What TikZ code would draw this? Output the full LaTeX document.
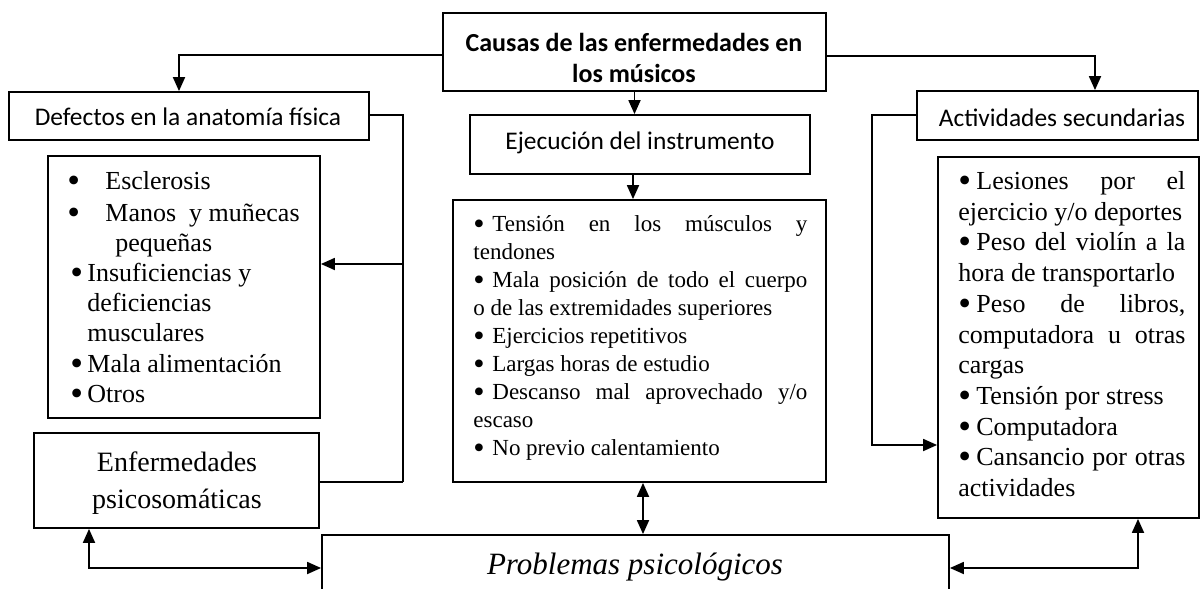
\documentclass[tikz,border=0pt]{standalone}
\usepackage{fontspec}
\usepackage{graphicx}
\setmainfont{Liberation Serif}
\newfontfamily\calib{Carlito}
\newcommand{\bul}{\smash{\raisebox{-1.4pt}{\scalebox{1.4}{•}}}}
\usetikzlibrary{arrows.meta,fit}
\begin{document}
\begin{tikzpicture}[x=0.5pt,y=-0.5pt,
  box/.style={draw,line width=0.9pt,inner sep=0pt},
  conn/.style={line width=0.9pt},
  arr/.style={conn,-{Triangle[length=7pt,width=6pt]}},
  darr/.style={conn,{Triangle[length=7pt,width=6pt]}-{Triangle[length=7pt,width=6pt]}},
  lbl/.style={inner sep=0pt,font=\calib\fontsize{12.7pt}{15.5pt}\selectfont,align=center},
  ml/.style={anchor=mid west,inner sep=0pt,font=\fontsize{11.5pt}{14pt}\selectfont},
  rl/.style={anchor=mid west,inner sep=0pt,font=\fontsize{13pt}{15pt}\selectfont},
  ll/.style={anchor=mid west,inner sep=0pt,font=\fontsize{13pt}{15pt}\selectfont}
]
\useasboundingbox (0,0) rectangle (1201,589);

% boxes
\node[box,fit={(443,13)(826,91)}] (causas) {};
\node[inner sep=0pt,align=center,font=\calib\bfseries\fontsize{13pt}{15.5pt}\selectfont] (causast) at (634,58) {Causas de las enfermedades en\\los músicos};
\node[box,fit={(9,92)(369,140)}] (defectos) {};
\node[lbl] (defectost) at (188,117) {Defectos en la anatomía física};
\node[box,fit={(470,115)(810,174)}] (ejec) {};
\node[lbl] (eject) at (640,143) {Ejecución del instrumento};
\node[box,fit={(917,91)(1198,140)}] (activ) {};
\node[lbl] (activt) at (1062,118) {Actividades secundarias};
\node[box,fit={(48,156)(320,418)}] (leftlist) {};
\node[box,fit={(453,200)(826,482)}] (midlist) {};
\node[box,fit={(938,157)(1199,518)}] (rightlist) {};
\node[box,fit={(34,433)(319,528)}] (enf) {};
\node[inner sep=0pt,align=center,font=\fontsize{14pt}{18.5pt}\selectfont] (enft) at (177,483) {Enfermedades\\psicosomáticas};
\node[box,fit={(322,535)(949,620)}] (prob) {};
\node[inner sep=0pt,font=\itshape\fontsize{15.5pt}{18pt}\selectfont] (probt) at (635,567) {Problemas psicológicos};

% left list
\node[ll] (l1) at (67,185) {\makebox[19pt][l]{\bul}Esclerosis};
\node[ll] (l2) at (67,217) {\makebox[19pt][l]{\bul}Manos\ \ y muñecas};
\node[ll] (l3) at (115,247) {pequeñas};
\node[ll] (l4) at (70,277) {\makebox[8.5pt][l]{\bul}Insuficiencias y};
\node[ll] (l5) at (87,307) {deficiencias};
\node[ll] (l6) at (87,337) {musculares};
\node[ll] (l7) at (70,368) {\makebox[8.5pt][l]{\bul}Mala alimentación};
\node[ll] (l8) at (70,398) {\makebox[8.5pt][l]{\bul}Otros};

% middle list
\node[ml] (m1) at (473,227) {\makebox[167pt][s]{\makebox[9.5pt][l]{\bul}Tensión en los músculos y}};
\node[ml] (m2) at (473,255) {tendones};
\node[ml] (m3) at (473,283) {\makebox[167pt][s]{\makebox[9.5pt][l]{\bul}Mala posición de todo el cuerpo}};
\node[ml] (m4) at (473,311) {o de las extremidades superiores};
\node[ml] (m5) at (473,339) {\makebox[9.5pt][l]{\bul}Ejercicios repetitivos};
\node[ml] (m6) at (473,367) {\makebox[9.5pt][l]{\bul}Largas horas de estudio};
\node[ml] (m7) at (473,395) {\makebox[167pt][s]{\makebox[9.5pt][l]{\bul}Descanso mal aprovechado y/o}};
\node[ml] (m8) at (473,423) {escaso};
\node[ml] (m9) at (473,451) {\makebox[9.5pt][l]{\bul}No previo calentamiento};

% right list
\node[rl] (r1) at (958,185) {\makebox[113.5pt][s]{\makebox[9pt][l]{\bul}Lesiones por el}};
\node[rl] (r2) at (958,216) {ejercicio y/o deportes};
\node[rl] (r3) at (958,246) {\makebox[113.5pt][s]{\makebox[9pt][l]{\bul}Peso del violín a la}};
\node[rl] (r4) at (958,277) {hora de transportarlo};
\node[rl] (r5) at (958,308) {\makebox[113.5pt][s]{\makebox[9pt][l]{\bul}Peso de libros,}};
\node[rl] (r6) at (958,339) {\makebox[113.5pt][s]{computadora u otras}};
\node[rl] (r7) at (958,369) {cargas};
\node[rl] (r8) at (958,400) {\makebox[9pt][l]{\bul}Tensión por stress};
\node[rl] (r9) at (958,431) {\makebox[9pt][l]{\bul}Computadora};
\node[rl] (r10) at (958,461) {\makebox[113.5pt][s]{\makebox[9pt][l]{\bul}Cansancio por otras}};
\node[rl] (r11) at (958,492) {actividades};

% connectors
\coordinate (jl) at (179,55);
\draw[arr] (causas.west |- jl) -- (jl) -- (jl |- defectos.north);
\coordinate (jr) at (1095,56);
\draw[arr] (causas.east |- jr) -- (jr) -- (jr |- activ.north);
\draw[arr] (causas.south) -- (causas.south |- ejec.north);
\coordinate (je) at (633,0);
\draw[arr] (je |- ejec.south) -- (je |- midlist.north);
\coordinate (vl) at (403,115);
\coordinate (vb) at (403,482);
\draw[conn] (defectos.east |- vl) -- (vl) -- (vb);
\draw[conn] (enf.east |- vb) -- (vb);
\coordinate (va) at (403,264);
\draw[arr] (va) -- (va -| leftlist.east);
\coordinate (al) at (872,115);
\coordinate (ab) at (872,445);
\draw[arr] (activ.west |- al) -- (al) -- (ab) -- (ab -| rightlist.west);
\coordinate (mm) at (643,0);
\draw[darr] (mm |- midlist.south) -- (mm |- prob.north);
\coordinate (bl) at (89,568);
\draw[darr] (bl |- enf.south) -- (bl) -- (bl -| prob.west);
\coordinate (br) at (1138,568);
\draw[darr] (br -| prob.east) -- (br) -- (br |- rightlist.south);
\end{tikzpicture}
\end{document}
